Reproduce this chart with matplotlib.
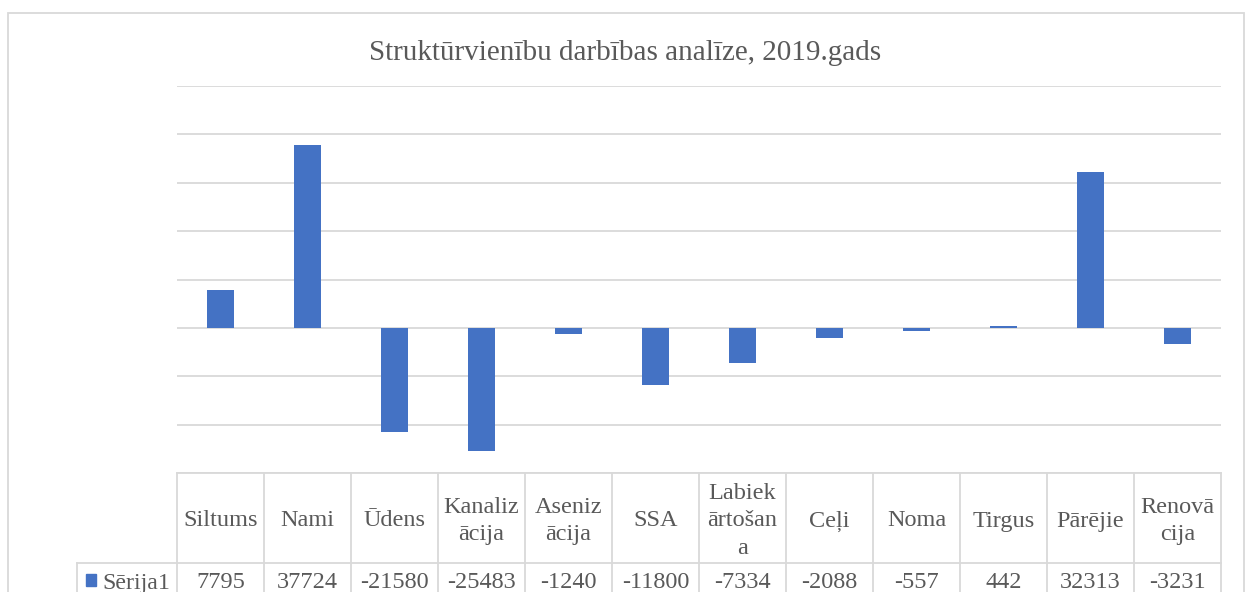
import matplotlib
matplotlib.use("Agg")
import matplotlib.pyplot as plt
from matplotlib.patches import Rectangle
from matplotlib.lines import Line2D

# data
categories = ["Siltums", "Nami", "Ūdens", "Kanaliz\nācija", "Aseniz\nācija", "SSA",
              "Labiek\nārtošan\na", "Ceļi", "Noma", "Tirgus", "Pārējie", "Renovā\ncija"]
values = [7795, 37724, -21580, -25483, -1240, -11800, -7334, -2088, -557, 442, 32313, -3231]
series_name = "Sērija1"
title = "Struktūrvienību darbības analīze, 2019.gads"

W, H = 1245, 592
grey = "#595959"
line_c = "#d9d9d9"
blue = "#4472C4"
serif = "Liberation Serif"

fig = plt.figure(figsize=(W / 100, H / 100), dpi=100)

def fx(px):
    return px / W

def fy(py):
    return 1 - py / H

# outer chart frame
fig.patches.append(Rectangle((fx(8), fy(640)), fx(1244 - 8), (640 - 13) / H,
                             transform=fig.transFigure, fill=False,
                             edgecolor=line_c, linewidth=1.3))

left, right, top, bottom = 177, 1221, 86, 473
ax = fig.add_axes([fx(left), fy(bottom), fx(right - left), (bottom - top) / H])

x = list(range(len(values)))
ax.bar(x, values, width=0.315, color=blue, zorder=3)
ax.set_xlim(-0.5, len(values) - 0.5)
ax.set_ylim(-30000, 50000)
ax.set_yticks(range(-30000, 50001, 10000))
ax.grid(axis="y", color=line_c, linewidth=1.3, zorder=0)
ax.tick_params(left=False, bottom=False, labelleft=False, labelbottom=False)
for s in ax.spines.values():
    s.set_visible(False)

fig.text(fx(625.5), fy(53), title, ha="center", va="center",
         fontsize=21, color=grey, family=serif)

# data table under the plot
row1_bot = 563
def lines_fig(xs, ys):
    fig.add_artist(Line2D([fx(v) for v in xs], [fy(v) for v in ys],
                          transform=fig.transFigure, color=line_c, linewidth=1.3))

lines_fig([left, right], [bottom, bottom])
lines_fig([77, right], [row1_bot, row1_bot])
lines_fig([77, 77], [row1_bot, 640])
colw = (right - left) / len(values)
for i in range(len(values) + 1):
    xp = left + i * colw
    lines_fig([xp, xp], [bottom, 640])

for i, (c, v) in enumerate(zip(categories, values)):
    cx = left + (i + 0.5) * colw
    fig.text(fx(cx), fy(521), c, ha="center", va="center", fontsize=17.5,
             color=grey, family=serif, linespacing=1.4)
    fig.text(fx(cx), fy(583), str(v), ha="center", va="center", fontsize=17.5,
             color=grey, family=serif)

fig.patches.append(Rectangle((fx(86), fy(586)), fx(10), 12 / H,
                             transform=fig.transFigure, color=blue))
fig.text(fx(102), fy(583), series_name, ha="left", va="center", fontsize=17.2,
         color=grey, family=serif)

fig.savefig("out.png", dpi=100)
